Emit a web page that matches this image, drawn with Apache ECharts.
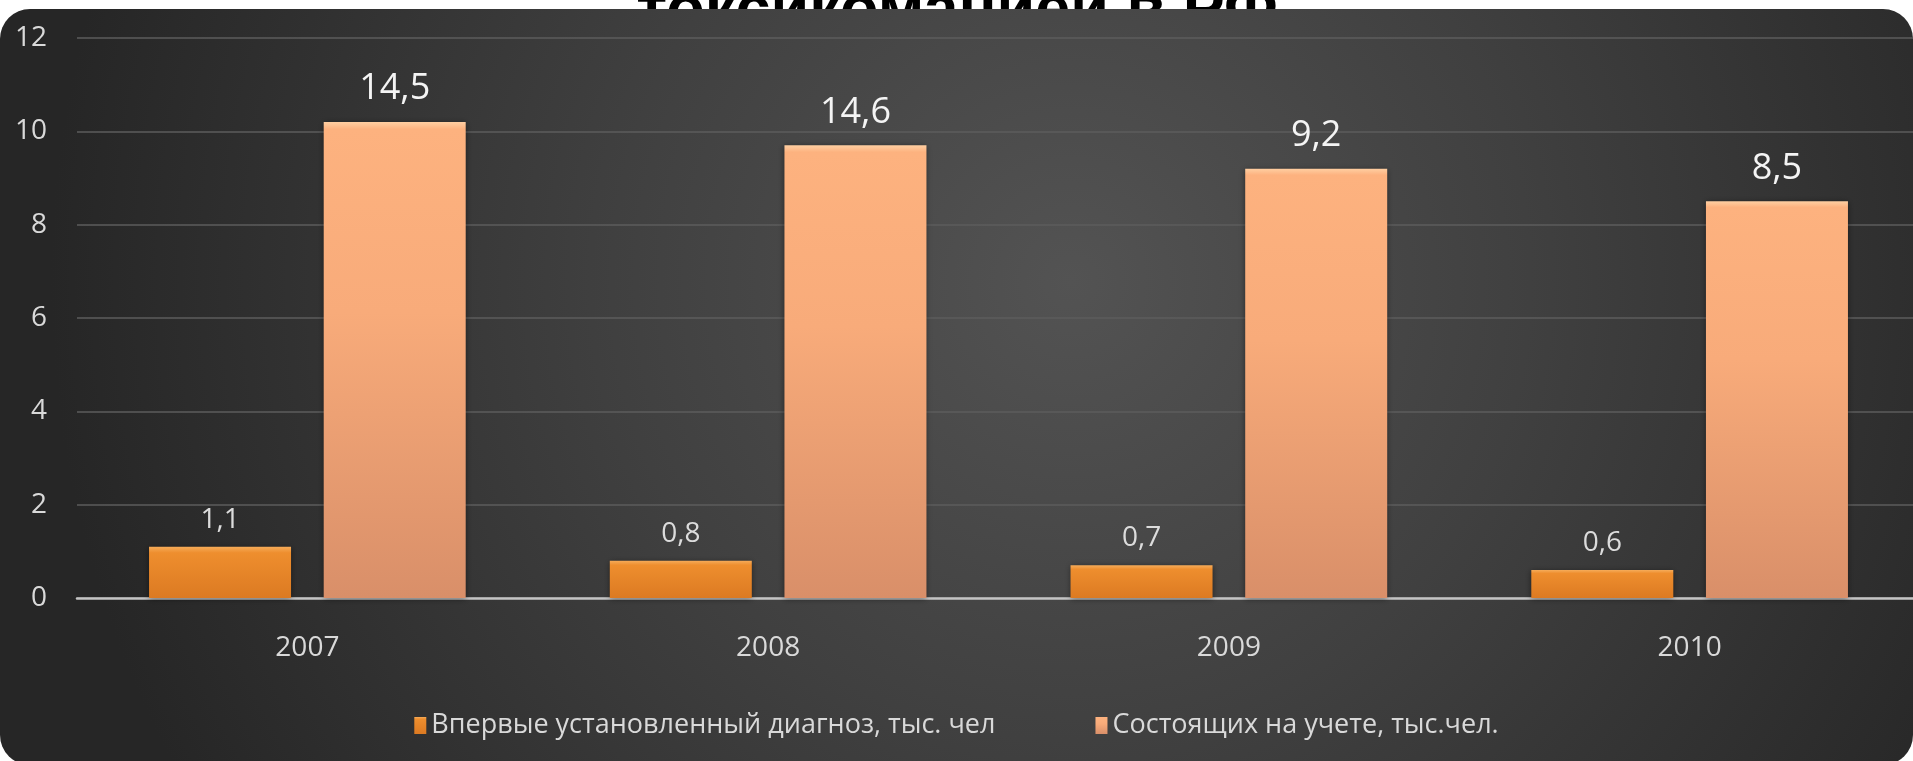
<!DOCTYPE html>
<html>
<head>
<meta charset="utf-8">
<script src="https://cdn.jsdelivr.net/npm/echarts@6/dist/echarts.min.js"></script>
<style>
html,body{margin:0;padding:0;background:#ffffff;}
#chart{width:1913px;height:761px;}
</style>
</head>
<body>
<div id="chart"></div>
<script>
var titleText = 'токсикоманией в РФ';
var categories = ['2007', '2008', '2009', '2010'];
var seriesNames = ['Впервые установленный диагноз, тыс. чел', 'Состоящих на учете, тыс.чел.'];
var newCases = [1.1, 0.8, 0.7, 0.6];
var registered = [10.2, 9.7, 9.2, 8.5];
var registeredLabels = ['14,5', '14,6', '9,2', '8,5'];
var yTicks = [0, 2, 4, 6, 8, 10, 12];

var chart = echarts.init(document.getElementById('chart'));
var font = '"Open Sans", "DejaVu Sans", sans-serif';

var orangeGrad = new echarts.graphic.LinearGradient(0, 0, 0, 1, [
  {offset: 0, color: '#f6ac5a'},
  {offset: 0.12, color: '#ee8e2e'},
  {offset: 1, color: '#dc7a22'}
]);
var peachGrad = new echarts.graphic.LinearGradient(0, 0, 0, 1, [
  {offset: 0, color: '#ffcfa2'},
  {offset: 0.015, color: '#fdb27f'},
  {offset: 0.4, color: '#f8ab7a'},
  {offset: 1, color: '#d98f69'}
]);

var option = {
  animation: false,
  backgroundColor: '#ffffff',
  graphic: {
    elements: [
      {
        type: 'text', z: -20, x: 957, y: 12,
        style: {
          text: titleText, fill: '#000000',
          font: 'bold 63px "Liberation Sans", Arial, sans-serif',
          textAlign: 'center', textVerticalAlign: 'middle'
        }
      },
      {
        type: 'rect', z: -10,
        shape: {x: 0, y: 9, width: 1913, height: 756, r: 30},
        style: {
          fill: new echarts.graphic.RadialGradient(0.56, 0.36, 1.35, [
            {offset: 0, color: '#535353'},
            {offset: 0.45, color: '#404040'},
            {offset: 1, color: '#262626'}
          ])
        }
      }
    ]
  },
  grid: {left: 77, right: -7, top: 38, bottom: 163, containLabel: false, outerBoundsMode: 'none'},
  legend: {
    data: seriesNames,
    top: 707,
    left: 'center',
    icon: 'rect',
    itemWidth: 12,
    itemHeight: 17,
    itemGap: 100,
    textStyle: {color: '#d9d9d9', fontSize: 27, fontFamily: font}
  },
  xAxis: {
    type: 'category',
    data: categories,
    axisLine: {lineStyle: {color: '#c4c4c4', width: 2.5}},
    axisTick: {show: false},
    axisLabel: {color: '#d9d9d9', fontSize: 28, fontFamily: font, margin: 36}
  },
  yAxis: {
    type: 'value',
    min: yTicks[0],
    max: yTicks[yTicks.length - 1],
    interval: 2,
    axisLine: {show: false},
    axisTick: {show: false},
    axisLabel: {color: '#d9d9d9', fontSize: 28, fontFamily: font, margin: 30},
    splitLine: {lineStyle: {color: '#5c5c5c', width: 1.5}}
  },
  series: [
    {
      name: seriesNames[0],
      type: 'bar',
      data: newCases,
      barWidth: 142,
      barGap: '23%',
      itemStyle: {color: orangeGrad, shadowBlur: 6, shadowColor: 'rgba(0,0,0,0.45)', shadowOffsetY: 1},
      label: {
        show: true, position: 'top', distance: 13,
        color: '#dcdcdc', fontSize: 28, fontFamily: font,
        formatter: function (p) { return String(p.value).replace('.', ','); }
      }
    },
    {
      name: seriesNames[1],
      type: 'bar',
      data: registered,
      barWidth: 142,
      barGap: '23%',
      itemStyle: {color: peachGrad, shadowBlur: 6, shadowColor: 'rgba(0,0,0,0.45)', shadowOffsetY: 1},
      label: {
        show: true, position: 'top', distance: 15,
        color: '#f4f4f4', fontSize: 36, fontFamily: font,
        formatter: function (p) { return registeredLabels[p.dataIndex]; }
      }
    }
  ]
};
chart.setOption(option);
</script>
</body>
</html>
